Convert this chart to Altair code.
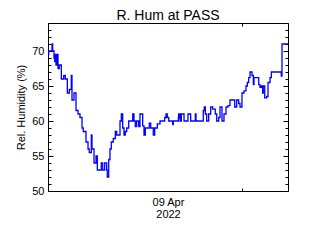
import altair as alt
import pandas as pd

# Hours since 08 Apr 15:40 (approx.), relative humidity (%)
hours = [0.00, 0.12, 0.67, 0.78, 1.00, 1.12, 1.22, 1.33, 1.55, 1.67, 1.88, 2.22, 2.62, 2.88,
         3.22, 3.55, 3.88, 4.00, 4.33, 4.67, 5.00, 5.33, 5.67, 5.88, 6.33, 6.67, 6.88, 7.22,
         7.33, 7.67, 8.00, 8.22, 8.88, 9.12, 9.45, 9.78, 9.88, 10.12, 10.33, 10.55, 10.88,
         11.22, 11.45, 12.00, 12.22, 12.45, 12.67, 12.88, 13.12, 13.45, 14.12, 14.33, 14.55,
         14.78, 15.12, 15.33, 15.78, 16.00, 16.22, 16.88, 17.12, 17.55, 17.78, 18.22, 18.67,
         19.45, 19.67, 19.88, 20.12, 20.78, 20.88, 21.72, 21.78, 22.00, 22.22, 22.67, 23.33,
         23.78, 24.55, 24.67, 25.88, 26.05, 26.22, 26.45, 26.78, 27.12, 27.45, 27.88, 28.12,
         28.45, 28.67, 29.00, 29.33, 29.67, 30.00, 30.33, 31.12, 31.45, 31.78, 32.00, 32.33,
         32.67, 33.00, 33.22, 33.45, 33.67, 34.00, 34.22, 34.33, 35.12, 35.33, 35.55, 35.78,
         35.88, 36.12, 36.45, 36.67, 37.00, 37.22, 38.88, 39.00, 40.00]
rel_hum = [69.5, 70, 71, 70, 69, 68.5, 69.5, 68, 69.5, 67.5, 68, 66, 66.5, 66,
           64, 64.5, 66.5, 63, 64, 61.5, 61, 60.5, 59, 58.5, 57, 56, 55.5, 58,
           56, 54, 55, 53, 54, 53, 54, 53, 52, 54.5, 56, 57, 57.5,
           58.5, 58, 60, 61, 59, 58, 58.5, 59, 60, 61, 60, 59.2,
           60, 59.2, 61, 59.3, 58, 59, 59.7, 59, 58, 59, 59.6, 60,
           60.5, 61, 60.5, 60, 59.5, 60, 60.5, 61, 60, 61, 60, 61,
           60, 61, 60, 61.5, 62, 61, 60, 61, 62, 61.7, 61, 60,
           60.5, 62, 60, 61, 62, 62.2, 63, 62, 63, 62.5, 62, 64,
           64.3, 65, 65.5, 66.2, 67, 66.5, 65.2, 66.2, 65.2, 64.8, 65, 64,
           65, 63.3, 63.5, 65.5, 66.2, 67, 66.4, 71, 71]

x_tick_hours = [32.33]          # 10 Apr 00:00
y_ticks = list(range(50, 75))   # minor every 1, labelled every 5
x_title = ["09 Apr", "2022"]

df = pd.DataFrame({"t": hours, "rh": rel_hum})

FONT = "Liberation Sans"

chart = alt.Chart(df).mark_line(
    interpolate="step-after", color="#0000ff", strokeWidth=1.3
).encode(
    x=alt.X("t:Q",
            scale=alt.Scale(domain=[0, 40], nice=False, zero=False),
            axis=alt.Axis(values=x_tick_hours, labels=False, ticks=False, domain=False,
                          grid=True, gridColor="black", gridOpacity=1, gridWidth=1,
                          gridDash=[3, 162, 3, 10],
                          title=x_title, titleFont=FONT, titleFontSize=11,
                          titleFontWeight="normal", titleColor="black",
                          titlePadding=5, titleLineHeight=12)),
    y=alt.Y("rh:Q",
            scale=alt.Scale(domain=[50, 74], nice=False, zero=False),
            axis=alt.Axis(values=y_ticks, ticks=False, tickSize=0, domain=False,
                          labelExpr="datum.value % 5 === 0 ? datum.label : ''",
                          labelFont=FONT, labelFontSize=11, labelColor="black",
                          labelPadding=4,
                          grid=True, gridColor="black", gridOpacity=1, gridWidth=1,
                          gridDash={"condition": {"test": "datum.value % 5 === 0",
                                                  "value": [5, 230, 5, 10]},
                                    "value": [3, 234, 3, 10]},
                          title="Rel. Humidity (%)", titleFont=FONT, titleFontSize=11,
                          titleFontWeight="normal", titleColor="black", titlePadding=5)),
).properties(
    width=240,
    height=168,
    title=alt.TitleParams("R. Hum at PASS", font=FONT, fontSize=14, fontWeight="normal",
                          color="black", anchor="middle", baseline="alphabetic",
                          offset=4, dy=15),
    autosize=alt.AutoSizeParams(type="none"),
    padding={"left": 48, "top": 23, "right": 32, "bottom": 49},
    background="white",
).configure_view(stroke="black", strokeWidth=1)

chart.save("out.html", embed_options={"renderer": "svg", "actions": False})
